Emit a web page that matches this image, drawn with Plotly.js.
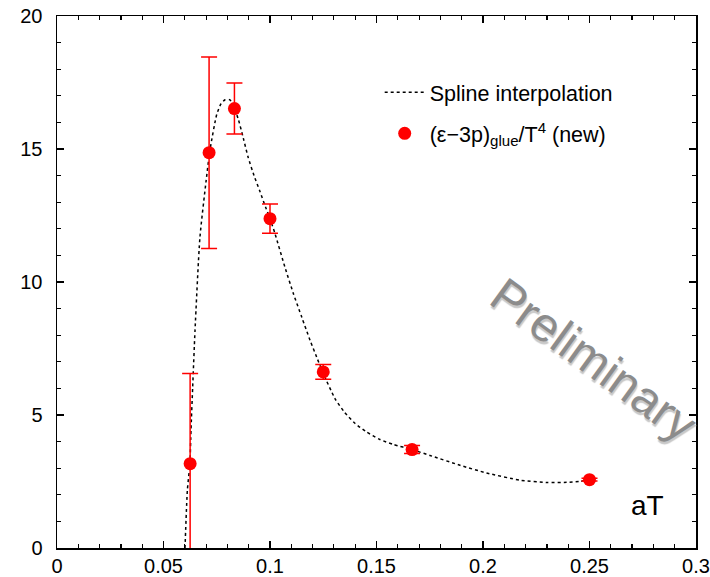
<!DOCTYPE html>
<html>
<head>
<meta charset="utf-8">
<script src="https://cdn.plot.ly/plotly-3.0.1.min.js"></script>
<style>html,body{margin:0;padding:0;background:#fff;}#chart{width:710px;height:577px;}</style>
</head>
<body>
<div id="chart"></div>
<script>
// Measured points: (epsilon-3p)_glue / T^4 vs aT
const pointX = [0.0625, 0.0714, 0.0833, 0.1, 0.125, 0.1667, 0.25];
const pointY = [3.17, 14.86, 16.52, 12.38, 6.62, 3.70, 2.57];
const pointErr = [3.39, 3.6, 0.96, 0.55, 0.28, 0.15, 0.05];

// Spline interpolation curve
const splineX = [0.0601, 0.0612, 0.0624, 0.0629, 0.0637, 0.0648, 0.0671, 0.0700, 0.0718, 0.0750, 0.0770, 0.0789, 0.0812, 0.0833, 0.0850, 0.0875, 0.0897, 0.0925, 0.0953, 0.0980, 0.1000, 0.1023, 0.1070, 0.1110, 0.1149, 0.1188, 0.1219, 0.1247, 0.1305, 0.1350, 0.1400, 0.1450, 0.1516, 0.1580, 0.1667, 0.1751, 0.1892, 0.2017, 0.2174, 0.2300, 0.2393, 0.2450, 0.2500];
const splineY = [0, 2.17, 3.17, 4.42, 6.05, 8.18, 11.67, 13.8, 14.95, 16.3, 16.7, 16.85, 16.85, 16.5, 16.15, 15.4, 14.7, 14.0, 13.4, 12.8, 12.38, 11.83, 10.56, 9.56, 8.68, 7.81, 7.18, 6.62, 5.62, 5.10, 4.68, 4.38, 4.08, 3.89, 3.70, 3.48, 3.11, 2.82, 2.55, 2.46, 2.47, 2.50, 2.57];

const xTicks = [0, 0.05, 0.1, 0.15, 0.2, 0.25, 0.3];
const xTickText = ['0', '0.05', '0.1', '0.15', '0.2', '0.25', '0.3'];
const yTicks = [0, 5, 10, 15, 20];
const yTickText = ['0', '5', '10', '15', '20'];

const seriesNames = ['Spline interpolation', '(ε−3p)<sub>glue</sub>/T<sup>4</sup> (new)'];
const axisLabel = 'aT';
const watermark = 'Preliminary';

const FONT = 'Arial, "Liberation Sans", Helvetica, sans-serif';

const traces = [
  {
    x: splineX, y: splineY, type: 'scatter', mode: 'lines',
    name: seriesNames[0], legendgroup: 'a',
    line: {color: '#000', width: 1.5, dash: 'dot', shape: 'spline', smoothing: 0.6},
    hoverinfo: 'skip'
  },
  {
    x: pointX, y: pointY, type: 'scatter', mode: 'markers',
    name: seriesNames[1], legendgroup: 'b',
    marker: {color: '#ff0000', size: 13, line: {width: 0}},
    error_y: {type: 'data', array: pointErr, visible: true, color: '#ff0000', thickness: 1.5, width: 8}
  }
];

const axisCommon = {
  showline: true, linecolor: '#000', linewidth: 1.5, mirror: 'ticks',
  ticks: 'inside', ticklen: 7, tickwidth: 1.2, tickcolor: '#000',
  showgrid: false, zeroline: false,
  tickfont: {family: FONT, size: 20, color: '#000'},
  tickmode: 'array'
};

const layout = {
  width: 710, height: 577,
  margin: {l: 57, r: 14, t: 16, b: 29},
  paper_bgcolor: '#fff', plot_bgcolor: '#fff',
  showlegend: true,
  legend: {
    x: 0.505, y: 0.895, xanchor: 'left', yanchor: 'top',
    font: {family: FONT, size: 21.5, color: '#000'},
    bgcolor: 'rgba(0,0,0,0)', borderwidth: 0,
    traceorder: 'grouped', tracegroupgap: 10, itemwidth: 40
  },
  xaxis: Object.assign({}, axisCommon, {
    range: [0, 0.3], tickvals: xTicks, ticktext: xTickText,
    minor: {dtick: 0.01, tick0: 0, ticks: 'inside', ticklen: 4, tickwidth: 1.2, tickcolor: '#000', showgrid: false},
    ticklabelstandoff: -1
  }),
  yaxis: Object.assign({}, axisCommon, {
    range: [0, 20], tickvals: yTicks, ticktext: yTickText,
    minor: {dtick: 1, tick0: 0, ticks: 'inside', ticklen: 4, tickwidth: 1.2, tickcolor: '#000', showgrid: false},
    ticklabelstandoff: 9
  }),
  annotations: [
    {
      text: axisLabel, xref: 'paper', yref: 'paper', x: 0.924, y: 0.08,
      xanchor: 'center', yanchor: 'middle', showarrow: false,
      font: {family: FONT, size: 28, color: '#000'}
    },
    {
      text: watermark, xref: 'paper', yref: 'paper', x: 0.84, y: 0.355,
      xanchor: 'center', yanchor: 'middle', showarrow: false, textangle: 36,
      font: {family: FONT, size: 48, color: '#8c8c8c', shadow: '2px 2px 1px #c8c8c8'}
    }
  ]
};

Plotly.newPlot('chart', traces, layout, {displayModeBar: false, staticPlot: true});
</script>
</body>
</html>
